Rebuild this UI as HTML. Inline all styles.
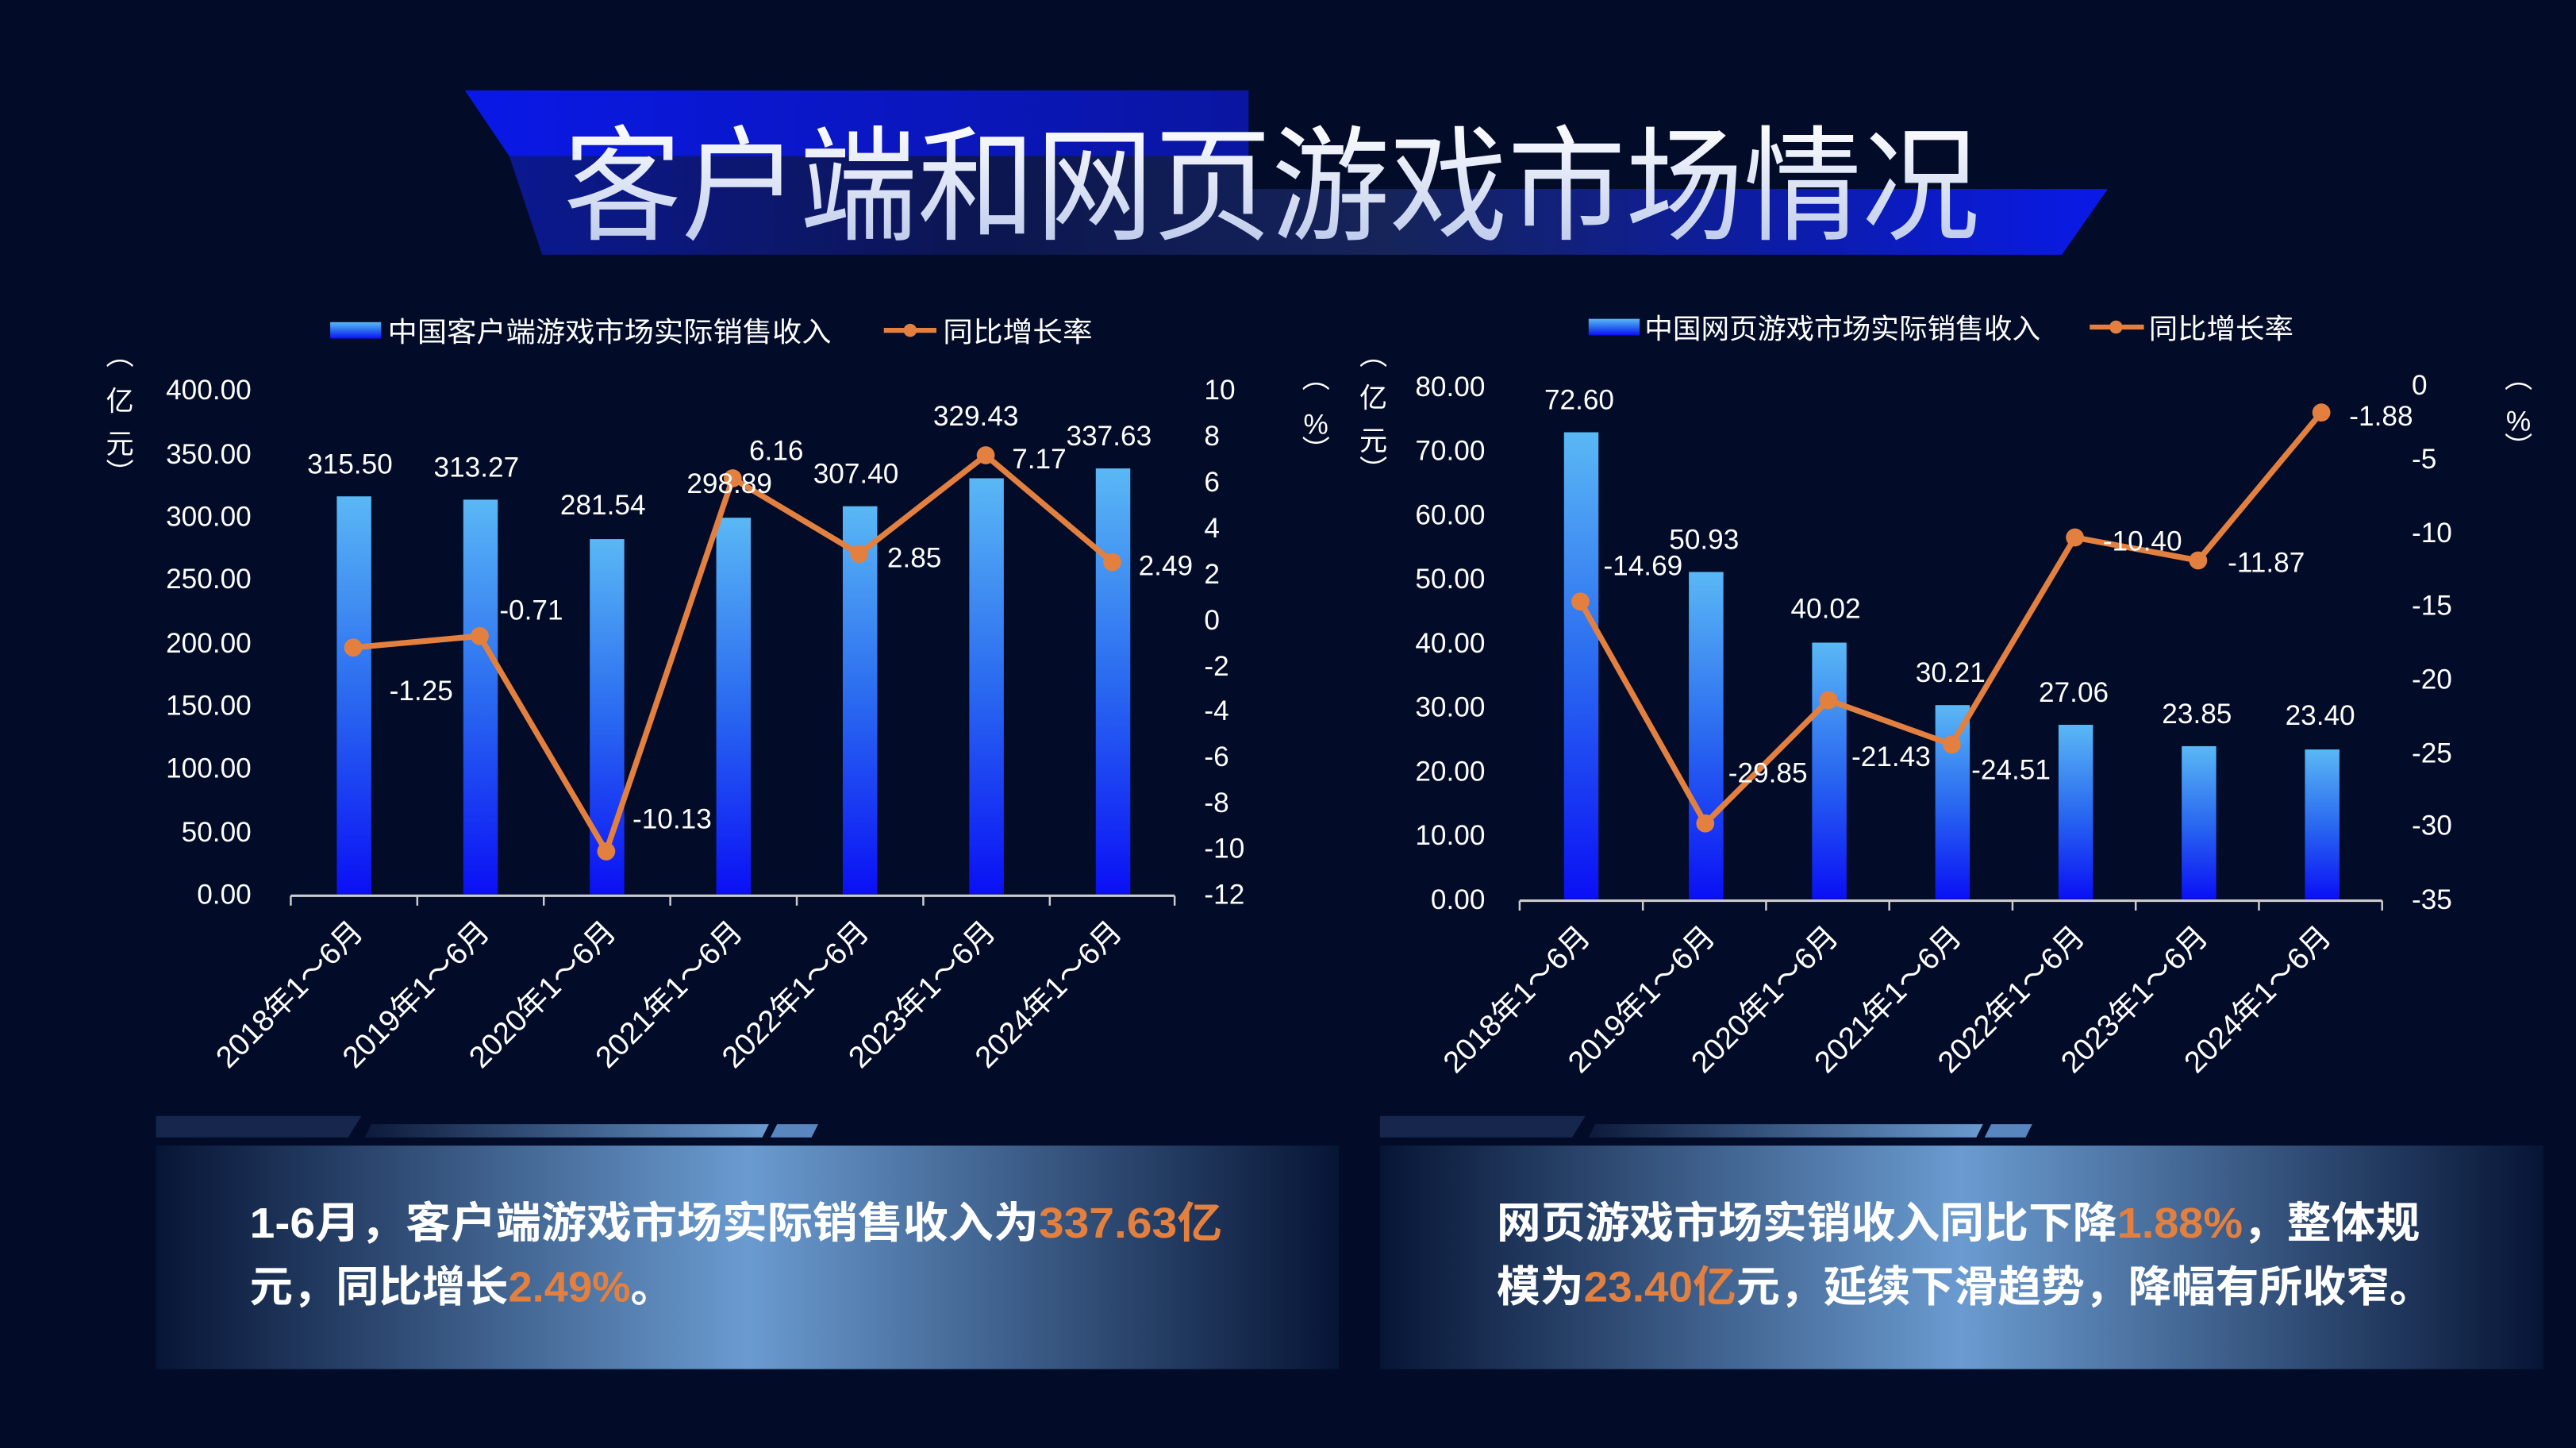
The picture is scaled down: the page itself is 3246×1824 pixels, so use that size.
<!DOCTYPE html>
<html><head><meta charset="utf-8"><style>
html,body{margin:0;padding:0;background:#020c28;}
svg{display:block;}
text{font-family:"Liberation Sans","Noto Sans CJK SC",sans-serif;}
</style></head><body>
<svg width="3246" height="1824" viewBox="0 0 1568 881" preserveAspectRatio="none" xmlns="http://www.w3.org/2000/svg">
<defs>
<linearGradient id="bar" x1="0" y1="0" x2="0" y2="1"><stop offset="0" stop-color="#5ab8f5"/><stop offset="0.5" stop-color="#2a6af0"/><stop offset="1" stop-color="#0a10f5"/></linearGradient>
<linearGradient id="ban" x1="0" y1="0" x2="1" y2="0"><stop offset="0" stop-color="#0b1890"/><stop offset="0.3" stop-color="#0c1650"/><stop offset="0.55" stop-color="#16245a"/><stop offset="0.8" stop-color="#0c1ca8"/><stop offset="1" stop-color="#0a1ae8"/></linearGradient>
<linearGradient id="pan" x1="0" y1="0" x2="1" y2="0"><stop offset="0" stop-color="#071535"/><stop offset="0.5" stop-color="#6a9bd0"/><stop offset="1" stop-color="#071535"/></linearGradient>
<linearGradient id="deco" x1="0" y1="0" x2="1" y2="0"><stop offset="0" stop-color="#0d1a3a"/><stop offset="1" stop-color="#6a9bd0"/></linearGradient>
<linearGradient id="tt" x1="0" y1="0" x2="0" y2="1"><stop offset="0" stop-color="#ffffff"/><stop offset="1" stop-color="#b8c6ea"/></linearGradient>
<linearGradient id="lb" x1="0" y1="0" x2="1" y2="0"><stop offset="0" stop-color="#0a18e8"/><stop offset="1" stop-color="#0a16a0"/></linearGradient>
</defs>
<rect width="1568" height="881" fill="#020c28"/>
<!-- title banner -->
<polygon points="283,55 760,55 760,95 310,95" fill="url(#lb)"/>
<polygon points="310,95 760,95 760,115 1283,115 1255,155 330,155" fill="url(#ban)"/>
<text x="343" y="140" font-size="76" fill="url(#tt)" textLength="862" lengthAdjust="spacingAndGlyphs">客户端和网页游戏市场情况</text>

<!-- LEFT CHART -->
<g font-size="17" fill="#fff">
<rect x="201" y="196" width="31" height="10" fill="url(#bar)"/>
<text x="236" y="208" textLength="270" lengthAdjust="spacingAndGlyphs">中国客户端游戏市场实际销售收入</text>
<line x1="538" y1="201" x2="570" y2="201" stroke="#e3803f" stroke-width="3"/><circle cx="554" cy="201" r="4" fill="#e3803f"/>
<text x="574" y="208" textLength="91" lengthAdjust="spacingAndGlyphs">同比增长率</text>
<g text-anchor="end">
<text x="153" y="550">0.00</text><text x="153" y="512">50.00</text><text x="153" y="473">100.00</text><text x="153" y="435">150.00</text><text x="153" y="397">200.00</text><text x="153" y="358">250.00</text><text x="153" y="320">300.00</text><text x="153" y="282">350.00</text><text x="153" y="243">400.00</text>
</g>
<g>
<text x="733" y="243">10</text><text x="733" y="271">8</text><text x="733" y="299">6</text><text x="733" y="327">4</text><text x="733" y="355">2</text><text x="733" y="383">0</text><text x="733" y="411">-2</text><text x="733" y="438">-4</text><text x="733" y="466">-6</text><text x="733" y="494">-8</text><text x="733" y="522">-10</text><text x="733" y="550">-12</text>
</g>
<g text-anchor="middle">
<text x="73" y="222">︵</text><text x="73" y="250">亿</text><text x="73" y="276">元</text><text x="73" y="294">︶</text>
<text x="801" y="236">︵</text><text x="801" y="264">%</text><text x="801" y="280">︶</text>
</g>
<rect x="205" y="302" width="21" height="242" fill="url(#bar)"/>
<rect x="282" y="304" width="21" height="240" fill="url(#bar)"/>
<rect x="359" y="328" width="21" height="216" fill="url(#bar)"/>
<rect x="436" y="315" width="21" height="229" fill="url(#bar)"/>
<rect x="513" y="308" width="21" height="236" fill="url(#bar)"/>
<rect x="590" y="291" width="21" height="253" fill="url(#bar)"/>
<rect x="667" y="285" width="21" height="259" fill="url(#bar)"/>
<line x1="177" y1="545" x2="715" y2="545" stroke="#ccc" stroke-width="1.5"/>
<g stroke="#ccc" stroke-width="1.2"><line x1="177" y1="545" x2="177" y2="551"/><line x1="254" y1="545" x2="254" y2="551"/><line x1="331" y1="545" x2="331" y2="551"/><line x1="408" y1="545" x2="408" y2="551"/><line x1="485" y1="545" x2="485" y2="551"/><line x1="562" y1="545" x2="562" y2="551"/><line x1="639" y1="545" x2="639" y2="551"/><line x1="715" y1="545" x2="715" y2="551"/></g>
<polyline points="215,394 292,387 369,518 446,291 523,337 600,277 677,342" fill="none" stroke="#e3803f" stroke-width="3.5"/>
<g fill="#e3803f"><circle cx="215" cy="394" r="5.5"/><circle cx="292" cy="387" r="5.5"/><circle cx="369" cy="518" r="5.5"/><circle cx="446" cy="291" r="5.5"/><circle cx="523" cy="337" r="5.5"/><circle cx="600" cy="277" r="5.5"/><circle cx="677" cy="342" r="5.5"/></g>
<text x="187" y="288">315.50</text><text x="264" y="290">313.27</text><text x="341" y="313">281.54</text><text x="418" y="300">298.89</text><text x="495" y="294">307.40</text><text x="568" y="259">329.43</text><text x="649" y="271">337.63</text>
<text x="237" y="426">-1.25</text><text x="304" y="377">-0.71</text><text x="385" y="504">-10.13</text><text x="456" y="280">6.16</text><text x="540" y="345">2.85</text><text x="616" y="285">7.17</text><text x="693" y="350">2.49</text>
<g font-size="18.5" text-anchor="end">
<text transform="translate(222,568) rotate(-45)">2018年1～6月</text>
<text transform="translate(299,568) rotate(-45)">2019年1～6月</text>
<text transform="translate(376,568) rotate(-45)">2020年1～6月</text>
<text transform="translate(453,568) rotate(-45)">2021年1～6月</text>
<text transform="translate(530,568) rotate(-45)">2022年1～6月</text>
<text transform="translate(607,568) rotate(-45)">2023年1～6月</text>
<text transform="translate(684,568) rotate(-45)">2024年1～6月</text>
</g>
</g>

<!-- RIGHT CHART -->
<g font-size="17" fill="#fff">
<rect x="967" y="194" width="31" height="10" fill="url(#bar)"/>
<text x="1001" y="206" textLength="241" lengthAdjust="spacingAndGlyphs">中国网页游戏市场实际销售收入</text>
<line x1="1272" y1="199" x2="1305" y2="199" stroke="#e3803f" stroke-width="3"/><circle cx="1288" cy="199" r="4" fill="#e3803f"/>
<text x="1308" y="206" textLength="88" lengthAdjust="spacingAndGlyphs">同比增长率</text>
<g text-anchor="end">
<text x="904" y="553">0.00</text><text x="904" y="514">10.00</text><text x="904" y="475">20.00</text><text x="904" y="436">30.00</text><text x="904" y="397">40.00</text><text x="904" y="358">50.00</text><text x="904" y="319">60.00</text><text x="904" y="280">70.00</text><text x="904" y="241">80.00</text>
</g>
<g>
<text x="1468" y="240">0</text><text x="1468" y="285">-5</text><text x="1468" y="330">-10</text><text x="1468" y="374">-15</text><text x="1468" y="419">-20</text><text x="1468" y="464">-25</text><text x="1468" y="508">-30</text><text x="1468" y="553">-35</text>
</g>
<g text-anchor="middle">
<text x="836" y="222">︵</text><text x="836" y="248">亿</text><text x="836" y="274">元</text><text x="836" y="292">︶</text>
<text x="1533" y="236">︵</text><text x="1533" y="262">%</text><text x="1533" y="278">︶</text>
</g>
<rect x="952" y="263" width="21" height="284" fill="url(#bar)"/>
<rect x="1028" y="348" width="21" height="199" fill="url(#bar)"/>
<rect x="1103" y="391" width="21" height="156" fill="url(#bar)"/>
<rect x="1178" y="429" width="21" height="118" fill="url(#bar)"/>
<rect x="1253" y="441" width="21" height="106" fill="url(#bar)"/>
<rect x="1328" y="454" width="21" height="93" fill="url(#bar)"/>
<rect x="1403" y="456" width="21" height="91" fill="url(#bar)"/>
<line x1="925" y1="548" x2="1450" y2="548" stroke="#ccc" stroke-width="1.5"/>
<g stroke="#ccc" stroke-width="1.2"><line x1="925" y1="548" x2="925" y2="554"/><line x1="1000" y1="548" x2="1000" y2="554"/><line x1="1075" y1="548" x2="1075" y2="554"/><line x1="1150" y1="548" x2="1150" y2="554"/><line x1="1225" y1="548" x2="1225" y2="554"/><line x1="1300" y1="548" x2="1300" y2="554"/><line x1="1375" y1="548" x2="1375" y2="554"/><line x1="1450" y1="548" x2="1450" y2="554"/></g>
<polyline points="962,366 1038,501 1113,426 1188,453 1263,327 1338,341 1413,251" fill="none" stroke="#e3803f" stroke-width="3.5"/>
<g fill="#e3803f"><circle cx="962" cy="366" r="5.5"/><circle cx="1038" cy="501" r="5.5"/><circle cx="1113" cy="426" r="5.5"/><circle cx="1188" cy="453" r="5.5"/><circle cx="1263" cy="327" r="5.5"/><circle cx="1338" cy="341" r="5.5"/><circle cx="1413" cy="251" r="5.5"/></g>
<text x="940" y="249">72.60</text><text x="1016" y="334">50.93</text><text x="1090" y="376">40.02</text><text x="1166" y="415">30.21</text><text x="1241" y="427">27.06</text><text x="1316" y="440">23.85</text><text x="1391" y="441">23.40</text>
<text x="976" y="350">-14.69</text><text x="1052" y="476">-29.85</text><text x="1127" y="466">-21.43</text><text x="1200" y="474">-24.51</text><text x="1280" y="335">-10.40</text><text x="1356" y="348">-11.87</text><text x="1430" y="259">-1.88</text>
<g font-size="18.5" text-anchor="end">
<text transform="translate(969,571) rotate(-45)">2018年1～6月</text>
<text transform="translate(1045,571) rotate(-45)">2019年1～6月</text>
<text transform="translate(1120,571) rotate(-45)">2020年1～6月</text>
<text transform="translate(1195,571) rotate(-45)">2021年1～6月</text>
<text transform="translate(1270,571) rotate(-45)">2022年1～6月</text>
<text transform="translate(1345,571) rotate(-45)">2023年1～6月</text>
<text transform="translate(1420,571) rotate(-45)">2024年1～6月</text>
</g>
</g>

<!-- bottom panels -->
<polygon points="95,679 220,679 212,692 95,692" fill="#16264c"/>
<polygon points="226,684 468,684 464,692 222,692" fill="url(#deco)"/>
<polygon points="473,684 498,684 494,692 469,692" fill="#5a86c0"/>
<rect x="95" y="697" width="720" height="136" fill="url(#pan)"/>
<polygon points="840,679 965,679 957,692 840,692" fill="#16264c"/>
<polygon points="971,684 1207,684 1203,692 967,692" fill="url(#deco)"/>
<polygon points="1212,684 1237,684 1233,692 1208,692" fill="#5a86c0"/>
<rect x="840" y="697" width="708" height="136" fill="url(#pan)"/>
<g font-size="26" font-weight="bold" fill="#fff">
<text x="152" y="753" textLength="592" lengthAdjust="spacingAndGlyphs">1-6月，客户端游戏市场实际销售收入为<tspan fill="#e3803f">337.63亿</tspan></text>
<text x="152" y="792" textLength="258" lengthAdjust="spacingAndGlyphs">元，同比增长<tspan fill="#e3803f">2.49%</tspan>。</text>
<text x="911" y="753" textLength="562" lengthAdjust="spacingAndGlyphs">网页游戏市场实销收入同比下降<tspan fill="#e3803f">1.88%</tspan>，整体规</text>
<text x="911" y="792" textLength="570" lengthAdjust="spacingAndGlyphs">模为<tspan fill="#e3803f">23.40亿</tspan>元，延续下滑趋势，降幅有所收窄。</text>
</g>
</svg>
</body></html>
